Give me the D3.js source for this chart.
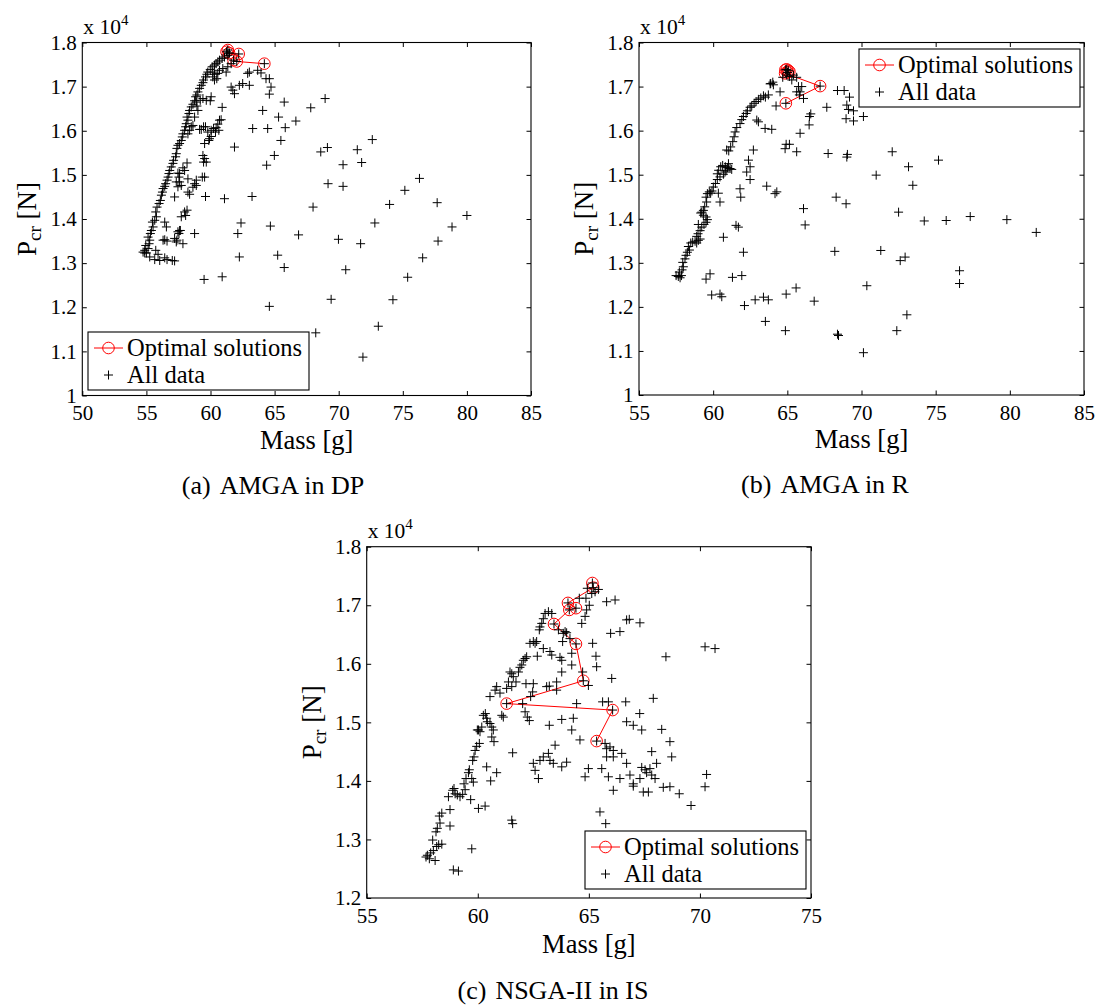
<!DOCTYPE html>
<html><head><meta charset="utf-8">
<script src="https://cdn.jsdelivr.net/npm/d3@7"></script>
<style>
body{margin:0;background:#fff}
svg text{font-family:"Liberation Serif","Times New Roman",serif;fill:#000}
</style>
</head><body>
<svg id="chart" width="1100" height="1005"></svg>
<script>
// ---------- DATA (Mass [g], Pcr [x10^4 N]) ----------
const xTicksA = [50,55,60,65,70,75,80,85];
const xTicksB = [55,60,65,70,75,80,85];
const xTicksC = [55,60,65,70,75];
const yTicksAB = [1,1.1,1.2,1.3,1.4,1.5,1.6,1.7,1.8];
const yTicksC = [1.2,1.3,1.4,1.5,1.6,1.7,1.8];
const captions = ["(a)", "AMGA in DP", "(b)", "AMGA in R", "(c)", "NSGA-II in IS"];
const legendLabels = ["Optimal solutions", "All data"];

const optimalA = [[61.35,1.783],[61.25,1.779],[61.45,1.776],[62.2,1.774],[61.8,1.760],[62.05,1.757],[64.2,1.752]];
const allDataA = [
[54.74,1.325],[54.87,1.329],[55.00,1.323],[55.13,1.333],[54.95,1.340],[55.21,1.344],[55.26,1.352],[55.13,1.359],[55.31,1.367],[55.39,1.374],[55.52,1.382],[55.47,1.393],[55.65,1.397],[55.78,1.405],[55.73,1.416],[55.83,1.427],[55.99,1.435],[56.09,1.442],[56.17,1.454],[56.25,1.461],[56.30,1.469],[56.43,1.474],[56.50,1.480],[56.61,1.488],[56.69,1.495],[56.76,1.503],[56.82,1.510],[56.94,1.518],[57.07,1.526],[57.12,1.533],[57.28,1.541],[57.33,1.548],[57.38,1.560],[57.46,1.567],[57.59,1.571],[57.72,1.578],[57.80,1.586],[57.85,1.593],[57.98,1.601],[58.06,1.609],[58.11,1.616],[58.24,1.624],[58.17,1.631],[58.32,1.639],[58.37,1.646],[58.50,1.654],[58.63,1.660],[58.76,1.668],[58.84,1.677],[58.94,1.681],[59.02,1.688],[59.15,1.696],[59.28,1.703],[59.41,1.709],[59.46,1.715],[59.61,1.722],[59.72,1.728],[59.79,1.733],[59.98,1.739],[60.13,1.745],[60.31,1.749],[60.44,1.752],[60.57,1.756],[60.70,1.760],[60.91,1.764],[61.09,1.767],[61.35,1.771],[61.48,1.776],
[54.87,1.323],[55.26,1.314],[55.65,1.308],[55.91,1.320],[56.04,1.306],[56.43,1.312],[56.61,1.308],[57.02,1.306],[57.20,1.305],[55.73,1.329],[56.30,1.352],[56.43,1.353],[56.61,1.350],[57.20,1.356],[57.38,1.352],[57.59,1.374],[57.46,1.371],[56.56,1.382],[56.43,1.393],[57.72,1.405],[57.98,1.416],[58.17,1.420],[58.06,1.408],[58.76,1.480],[58.89,1.488],[58.63,1.472],[58.24,1.491],[57.59,1.484],[57.72,1.476],[57.33,1.484],[57.54,1.495],[58.17,1.527],[57.98,1.510],[57.85,1.516],[57.59,1.503],[57.20,1.450],[59.54,1.495],[59.61,1.451],[61.09,1.446],[63.24,1.451],[57.46,1.473],[58.89,1.476],[57.46,1.504],[58.24,1.461],[58.37,1.456],[59.41,1.544],[59.54,1.537],[59.46,1.529],[59.67,1.529],[59.92,1.582],[60.05,1.587],[59.87,1.578],[60.05,1.601],[60.24,1.605],[60.39,1.597],[60.44,1.607],[60.57,1.615],[60.70,1.624],[60.83,1.625],[60.65,1.601],[59.79,1.597],[59.46,1.609],[59.28,1.603],[59.61,1.609],[59.15,1.603],[58.63,1.612],[58.50,1.609],[58.76,1.631],[58.37,1.601],[58.24,1.593],[59.02,1.646],[58.94,1.656],[58.89,1.665],[59.20,1.669],[59.41,1.673],[59.67,1.669],[59.98,1.668],[60.05,1.677],[60.31,1.715],[60.18,1.722],[60.49,1.718],[60.31,1.728],[60.18,1.733],[60.57,1.730],[60.70,1.737],[60.96,1.741],[61.22,1.733],[61.35,1.745],[61.61,1.752],[61.61,1.699],[61.74,1.692],[61.87,1.684],[62.25,1.703],[62.51,1.707],[63.03,1.703],[62.90,1.730],[63.03,1.733],[61.87,1.563],[60.91,1.653],[63.29,1.605],[59.54,1.571],[59.36,1.495],[58.76,1.367],[57.54,1.367],[57.33,1.348],[57.65,1.374],[57.85,1.344],[62.13,1.367],[62.38,1.391],[62.25,1.314],
[61.35,1.783],[61.25,1.779],[61.45,1.776],[62.2,1.774],[61.8,1.760],[62.05,1.757],[64.2,1.752],
[63.68,1.737],[63.94,1.731],[64.33,1.718],[64.59,1.718],[64.72,1.699],[64.59,1.683],[65.75,1.665],[64.07,1.646],[65.31,1.631],[66.66,1.622],[67.82,1.652],[68.94,1.673],[64.46,1.605],[65.83,1.607],[65.49,1.578],[72.62,1.580],[69.12,1.562],[68.60,1.552],[71.45,1.557],[71.79,1.528],[70.34,1.523],[64.98,1.544],[64.38,1.522],[69.17,1.480],[70.34,1.474],[68.00,1.427],[75.16,1.465],[76.30,1.492],[73.97,1.433],[72.82,1.391],[64.67,1.384],[66.87,1.364],[69.98,1.354],[71.71,1.344],[65.24,1.318],[65.75,1.290],[60.91,1.269],[70.55,1.285],[75.38,1.268],[76.55,1.312],[64.59,1.202],[69.41,1.218],[74.23,1.217],[68.21,1.142],[73.09,1.157],[71.89,1.087],
[77.68,1.437],[80.0,1.408],[78.84,1.382],[77.75,1.350],[59.5,1.263]
];

const optimalB = [[64.87,1.738],[64.96,1.739],[65.07,1.736],[65.14,1.734],[65.01,1.732],[64.85,1.730],[67.21,1.701],[64.90,1.662]];
const allDataB = [
[57.50,1.271],[57.65,1.269],[57.77,1.266],[57.86,1.271],[57.72,1.279],[57.90,1.284],[57.99,1.291],[57.95,1.301],[58.10,1.309],[58.17,1.317],[58.26,1.324],[58.40,1.329],[58.33,1.337],[58.49,1.345],[58.62,1.347],[58.78,1.349],[58.89,1.345],[59.00,1.351],[59.12,1.354],[58.89,1.360],[58.98,1.366],[59.12,1.373],[59.23,1.381],[59.38,1.387],[59.52,1.392],[59.61,1.398],[59.52,1.404],[59.34,1.408],[59.16,1.413],[59.00,1.387],[59.23,1.415],[59.34,1.419],[59.43,1.427],[59.56,1.438],[59.52,1.449],[59.61,1.457],[59.74,1.461],[59.83,1.458],[59.92,1.463],[60.01,1.472],[60.15,1.480],[60.28,1.489],[60.46,1.495],[60.28,1.502],[60.37,1.510],[60.51,1.518],[60.64,1.521],[60.82,1.518],[60.96,1.516],[61.14,1.514],[61.25,1.512],[61.03,1.525],[60.80,1.506],[60.69,1.501],[60.87,1.509],[61.05,1.554],[60.91,1.556],[61.18,1.563],[61.32,1.575],[61.41,1.586],[61.48,1.597],[61.59,1.607],[61.81,1.616],[61.93,1.625],[62.04,1.632],[62.22,1.639],[62.31,1.645],[62.49,1.653],[62.60,1.656],[62.76,1.662],[62.89,1.666],[63.05,1.671],[63.21,1.674],[63.39,1.679],[63.52,1.676],[63.72,1.681],[63.88,1.707],[64.02,1.710],[63.84,1.706],[64.06,1.704],[64.24,1.656],[64.51,1.688],[64.69,1.721],[64.96,1.726],[65.14,1.723],[65.30,1.715],[65.41,1.726],[65.63,1.721],[65.75,1.700],[65.97,1.700],[65.86,1.688],[66.09,1.673],[65.63,1.688],[65.81,1.681],
[62.94,1.624],[63.05,1.620],[63.50,1.605],[63.95,1.603],[62.71,1.556],[62.38,1.533],[62.49,1.518],[62.26,1.506],[62.49,1.489],[61.81,1.468],[61.86,1.449],[61.54,1.385],[61.70,1.381],[60.46,1.438],[60.35,1.458],[60.69,1.358],[60.46,1.229],[59.90,1.227],[60.58,1.223],[59.52,1.263],[59.79,1.275],[61.30,1.267],[61.93,1.271],[62.04,1.324],[62.11,1.203],[62.83,1.216],[63.39,1.222],[63.72,1.216],[63.52,1.167],[64.87,1.146],[64.92,1.229],[65.59,1.243],[64.85,1.559],[64.92,1.569],[65.14,1.569],[65.63,1.552],[63.61,1.474],[64.17,1.457],[64.29,1.461],[66.09,1.423],[66.20,1.386],[66.81,1.213],[66.49,1.632],[66.58,1.638],[66.47,1.613],[65.86,1.594],[68.29,1.449],[68.96,1.434],[68.20,1.326],[67.75,1.548],[69.01,1.540],[69.05,1.546],[67.66,1.653],[68.38,1.691],[68.83,1.691],[69.19,1.676],[69.01,1.658],[69.12,1.648],[69.46,1.645],[68.96,1.627],[69.46,1.622],[70.13,1.632],[68.38,1.138],[68.45,1.135],[70.13,1.096],[70.99,1.499],[71.30,1.328],[72.07,1.552],[72.38,1.146],[72.50,1.415],[72.61,1.305],[72.94,1.313],[73.06,1.182],[73.17,1.518],[73.46,1.476],[74.23,1.395],[75.19,1.533],[75.71,1.396],[76.61,1.282],[76.61,1.253],[77.33,1.405],[79.80,1.398],[81.78,1.369],[70.36,1.248],
[64.87,1.738],[64.96,1.739],[65.07,1.736],[65.01,1.732],[67.21,1.701],[64.90,1.662]
];

const optimalC = [[65.16,1.738],[65.20,1.730],[64.06,1.704],[64.42,1.695],[64.12,1.692],[63.43,1.668],[64.42,1.634],[64.75,1.571],[61.30,1.532],[66.07,1.521],[65.35,1.468]];
const allDataC = [
[57.67,1.270],[57.73,1.273],[57.82,1.267],[57.88,1.277],[58.00,1.281],[58.08,1.264],[58.15,1.288],[57.97,1.299],[58.12,1.313],[58.18,1.319],[58.30,1.328],[58.27,1.340],[58.38,1.345],[58.24,1.291],[58.38,1.292],[58.75,1.323],[58.75,1.351],[58.68,1.373],[58.87,1.384],[58.93,1.387],[58.98,1.378],[59.08,1.376],[59.20,1.373],[59.32,1.377],[59.43,1.385],[59.38,1.395],[59.47,1.404],[59.58,1.414],[59.62,1.419],[59.73,1.404],[59.80,1.398],[59.68,1.368],[59.77,1.435],[59.83,1.441],[59.88,1.452],[59.95,1.459],[60.07,1.464],[60.03,1.487],[59.98,1.487],[60.10,1.484],[60.18,1.492],[60.25,1.512],[60.34,1.515],[60.40,1.507],[60.43,1.501],[60.55,1.498],[60.63,1.492],[60.70,1.487],[60.73,1.467],[60.63,1.475],[60.55,1.544],[60.78,1.555],[60.85,1.561],[61.00,1.550],[61.08,1.512],[61.15,1.509],[61.30,1.558],[61.38,1.569],[61.45,1.586],[61.53,1.583],[61.60,1.578],[61.53,1.561],[61.72,1.569],[61.83,1.586],[61.90,1.594],[61.98,1.598],[62.05,1.606],[62.13,1.609],[62.20,1.612],[62.17,1.566],[62.02,1.532],[62.13,1.518],[62.23,1.509],[62.32,1.503],[62.38,1.544],[62.47,1.552],[62.50,1.566],[62.35,1.635],[62.50,1.638],[62.58,1.635],[62.65,1.638],[62.77,1.658],[62.80,1.663],[62.88,1.669],[62.95,1.677],[63.03,1.686],[63.18,1.689],[63.33,1.686],[62.68,1.613],[62.95,1.626],[63.25,1.621],[63.33,1.615],[63.70,1.611],[63.78,1.606],[63.82,1.638],[63.63,1.658],[63.85,1.652],[63.93,1.655],[64.00,1.653],[64.15,1.643],[64.23,1.598],[64.23,1.618],[63.78,1.586],[63.55,1.569],[63.22,1.562],[63.10,1.561],[63.55,1.555],[64.45,1.532],[64.72,1.586],[64.98,1.563],[64.68,1.669],[64.83,1.681],[64.90,1.692],[65.02,1.700],[65.13,1.720],[65.28,1.723],[65.43,1.727],[64.87,1.712],[64.57,1.712],[64.93,1.729],[65.80,1.706],[66.18,1.709],[66.70,1.675],[66.82,1.676],[67.30,1.670],[65.98,1.652],[66.40,1.655],[65.17,1.635],[65.32,1.613],[65.35,1.595],[66.03,1.575],[68.47,1.612],[70.23,1.629],[70.68,1.626],[67.90,1.541],[65.88,1.535],[65.62,1.535],[66.66,1.535],[67.29,1.515],[67.38,1.487],[66.70,1.501],[67.00,1.495],[68.28,1.488],[68.65,1.467],[68.73,1.441],[67.83,1.450],[68.05,1.430],[67.75,1.421],[67.53,1.419],[67.38,1.423],[67.60,1.414],[67.83,1.410],[67.98,1.404],[67.30,1.404],[67.00,1.395],[66.85,1.410],[66.70,1.430],[66.48,1.447],[66.10,1.441],[65.73,1.464],[65.80,1.455],[65.95,1.458],[66.10,1.452],[65.80,1.441],[65.58,1.421],[65.88,1.407],[66.40,1.404],[66.10,1.384],[67.00,1.391],[67.45,1.381],[67.68,1.381],[68.35,1.389],[68.65,1.390],[69.07,1.378],[69.60,1.358],[70.30,1.411],[70.23,1.390],[65.50,1.347],[65.76,1.327],[64.98,1.421],[64.83,1.407],[64.60,1.470],[64.23,1.487],[64.30,1.507],[63.78,1.505],[63.22,1.495],[63.48,1.461],[63.18,1.447],[62.95,1.441],[62.80,1.435],[62.50,1.430],[62.58,1.418],[62.73,1.404],[63.25,1.435],[63.40,1.430],[63.78,1.424],[64.00,1.432],[61.53,1.333],[61.57,1.327],[61.57,1.448],[60.85,1.414],[60.58,1.400],[60.40,1.424],[60.33,1.357],[60.03,1.353],[59.73,1.284],[58.90,1.248],[59.13,1.246],
[65.16,1.738],[65.20,1.730],[64.06,1.704],[64.42,1.695],[64.12,1.692],[63.43,1.668],[64.42,1.634],[64.75,1.571],[61.30,1.532],[66.07,1.521],[65.35,1.468]
];

// ---------- LAYOUT ----------
const panels = [
  {opt: optimalA, all: allDataA, xDomain:[50,85], yDomain:[1,1.8], xTicks:xTicksA, yTicks:yTicksAB,
   box:[82.3,531,42.5,395.5], legend:[88,332], cap:[captions[0],captions[1]], capX:273, massDy:53, capDy:98},
  {opt: optimalB, all: allDataB, xDomain:[55,85], yDomain:[1,1.8], xTicks:xTicksB, yTicks:yTicksAB,
   box:[639,1084,42.5,395], legend:[859,49], cap:[captions[2],captions[3]], capX:825, massDy:53, capDy:98},
  {opt: optimalC, all: allDataC, xDomain:[55,75], yDomain:[1.2,1.8], xTicks:xTicksC, yTicks:yTicksC,
   box:[366.7,811,546.7,898], legend:[585,831], cap:[captions[4],captions[5]], capX:553, massDy:55, capDy:100.5}
];

const svg = d3.select("#chart");
const FONT = '"Liberation Serif","Times New Roman",serif';
const plusPath = "M-4.5,0H4.5M0,-4.5V4.5";
const TICK = 4.5;
const TICKFS = 21;
const fmtY = d => String(Math.round(d*10)/10);

function drawPanel(p){
  const [x0,x1,y0,y1] = p.box;
  const x = d3.scaleLinear().domain(p.xDomain).range([x0,x1]);
  const y = d3.scaleLinear().domain(p.yDomain).range([y1,y0]);
  const g = svg.append("g");

  const styleAxis = (sel) => {
    sel.select(".domain").remove();
    sel.attr("font-family", FONT).attr("font-size", TICKFS);
    sel.selectAll(".tick line").attr("stroke","#000").attr("stroke-width",1);
    sel.selectAll(".tick text").attr("fill","#000");
  };

  g.append("g").attr("transform",`translate(0,${y1})`)
    .call(d3.axisBottom(x).tickValues(p.xTicks).tickSize(-TICK).tickPadding(9.6).tickFormat(d3.format("d")))
    .call(styleAxis);
  g.append("g").attr("transform",`translate(0,${y0})`)
    .call(d3.axisTop(x).tickValues(p.xTicks).tickSize(-TICK).tickFormat(""))
    .call(styleAxis);
  g.append("g").attr("transform",`translate(${x0},0)`)
    .call(d3.axisLeft(y).tickValues(p.yTicks).tickSize(-TICK).tickPadding(5.5).tickFormat(fmtY))
    .call(styleAxis);
  g.append("g").attr("transform",`translate(${x1},0)`)
    .call(d3.axisRight(y).tickValues(p.yTicks).tickSize(-TICK).tickFormat(""))
    .call(styleAxis);

  // data: optimal first (red), then all data (black plus)
  const line = d3.line().x(d=>x(d[0])).y(d=>y(d[1]));
  g.append("path").datum(p.opt).attr("d",line).attr("fill","none").attr("stroke","#ff0000").attr("stroke-width",1);
  g.selectAll("circle.opt").data(p.opt).join("circle").attr("class","opt")
    .attr("cx",d=>x(d[0])).attr("cy",d=>y(d[1])).attr("r",5.8)
    .attr("fill","none").attr("stroke","#ff0000").attr("stroke-width",1);
  g.selectAll("path.pt").data(p.all).join("path").attr("class","pt")
    .attr("transform",d=>`translate(${x(d[0])},${y(d[1])})`)
    .attr("d",plusPath).attr("stroke","#000").attr("stroke-width",1).attr("fill","none");

  // frame
  g.append("rect").attr("x",x0).attr("y",y0).attr("width",x1-x0).attr("height",y1-y0)
    .attr("fill","none").attr("stroke","#000").attr("stroke-width",1.1);

  // exponent label
  const ex = g.append("text").attr("x",x0+1).attr("y",y0-9).attr("font-size",21.5);
  ex.append("tspan").text("x 10");
  ex.append("tspan").attr("font-size",15).attr("dy",-9).text("4");

  // axis labels
  g.append("text").attr("x",(x0+x1)/2).attr("y",y1+p.massDy).attr("text-anchor","middle")
    .attr("font-size",26.5).text("Mass [g]");
  const yl = g.append("text").attr("transform",`translate(${x0-46},${(y0+y1)/2}) rotate(-90)`)
    .attr("text-anchor","middle").attr("font-size",27);
  yl.append("tspan").text("P");
  yl.append("tspan").attr("font-size",19).attr("dy",5).text("cr");
  yl.append("tspan").attr("dy",-5).text(" [N]");

  // caption
  const cap = g.append("text").attr("x",p.capX).attr("y",y1+p.capDy).attr("text-anchor","middle").attr("font-size",26);
  cap.append("tspan").text(p.cap[0]);
  cap.append("tspan").attr("dx",9).text(p.cap[1]);

  // legend
  const [lx,ly] = p.legend;
  const lg = g.append("g").attr("transform",`translate(${lx},${ly})`);
  lg.append("rect").attr("width",221).attr("height",58).attr("fill","#fff").attr("stroke","#000").attr("stroke-width",1.1);
  lg.append("line").attr("x1",6).attr("x2",35).attr("y1",16).attr("y2",16).attr("stroke","#ff0000").attr("stroke-width",1);
  lg.append("circle").attr("cx",20.5).attr("cy",16).attr("r",5.8).attr("fill","none").attr("stroke","#ff0000").attr("stroke-width",1);
  lg.append("path").attr("transform","translate(20.5,43)").attr("d",plusPath).attr("stroke","#000").attr("stroke-width",1);
  lg.append("text").attr("x",39).attr("y",24).attr("font-size",24.5).text(legendLabels[0]);
  lg.append("text").attr("x",39).attr("y",51).attr("font-size",24.5).text(legendLabels[1]);
}

panels.forEach(drawPanel);
</script>
</body></html>
